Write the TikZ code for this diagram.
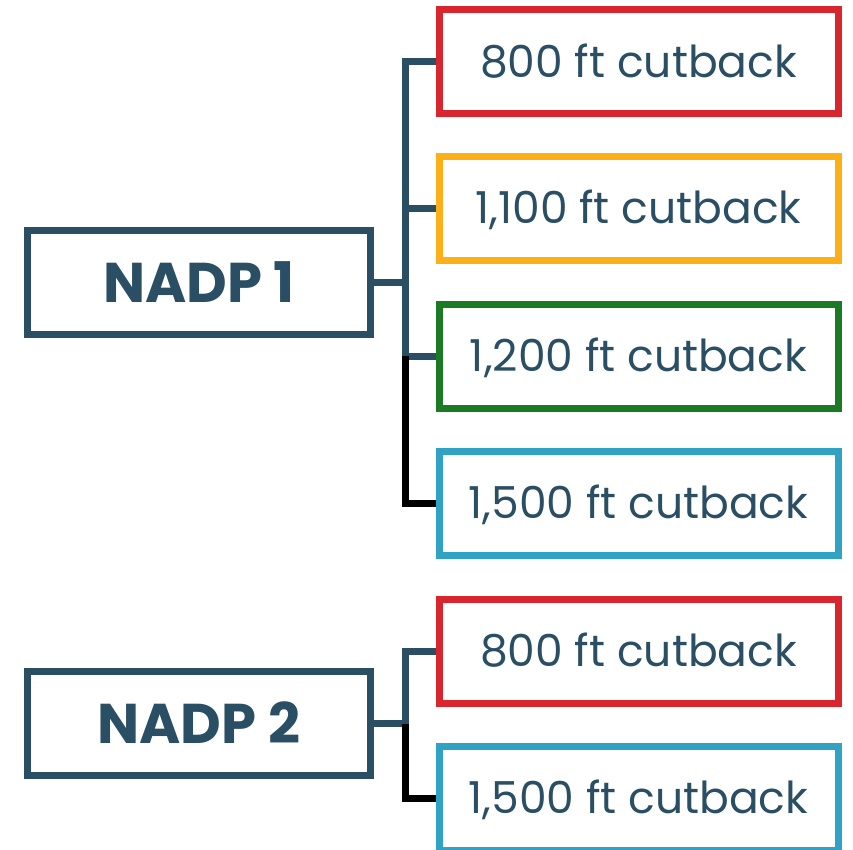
\documentclass[tikz,border=0pt]{standalone}
\usepackage{fontspec}
\setmainfont{Poppins}
\usetikzlibrary{calc}
\definecolor{navy}{HTML}{2A4E64}
\definecolor{cred}{HTML}{D9252D}
\definecolor{corange}{HTML}{FDAF17}
\definecolor{cgreen}{HTML}{1B7A23}
\definecolor{cblue}{HTML}{30A2C4}
\tikzset{
  mainbox/.style={draw=navy, line width=7pt, minimum width=343pt, minimum height=104pt, inner sep=0pt,
    text=navy, font=\fontsize{56}{60}\selectfont\bfseries, text height=40pt, text depth=0pt},
  cutbox/.style={draw=#1, line width=7pt, minimum width=399pt, minimum height=104pt, inner sep=0pt,
    text=navy, font=\fontsize{44}{48}\selectfont, text height=31pt, text depth=0pt},
  conn/.style={draw=navy, line width=7pt, line join=miter},
  conndark/.style={draw=black, line width=7pt, line join=miter}
}
\begin{document}
\begin{tikzpicture}[x=1pt,y=-1pt]
\useasboundingbox (0,0) rectangle (853,849);
\node[mainbox] (n1) at (199,282) {NADP 1};
\node[mainbox] (n2) at (199,723.5) {NADP 2};
\node[cutbox=cred] (a1) at (638.5,61.5) {800 ft cutback};
\node[cutbox=corange] (a2) at (638.5,208) {1,100 ft cutback};
\node[cutbox=cgreen] (a3) at (638.5,356) {1,200 ft cutback};
\node[cutbox=cblue] (a4) at (638.5,503) {1,500 ft cutback};
\node[cutbox=cred] (b1) at (638.5,651) {800 ft cutback};
\node[cutbox=cblue] (b2) at (638.5,798) {1,500 ft cutback};
\coordinate (v) at (405,0);
% group 1
\draw[conn] (a1.west) -| (v |- a3.west) -- (a3.west);
\draw[conn] (a2.west) -- (a2.west -| v);
\draw[conn] (n1.east) -- (n1.east -| v);
\draw[conndark] (v |- a3.west) |- (a4.west);
% group 2
\draw[conn] (b1.west) -| (v |- n2.east);
\draw[conn] (n2.east) -- (n2.east -| v);
\draw[conndark] (v |- n2.east) |- (b2.west);
\end{tikzpicture}
\end{document}
